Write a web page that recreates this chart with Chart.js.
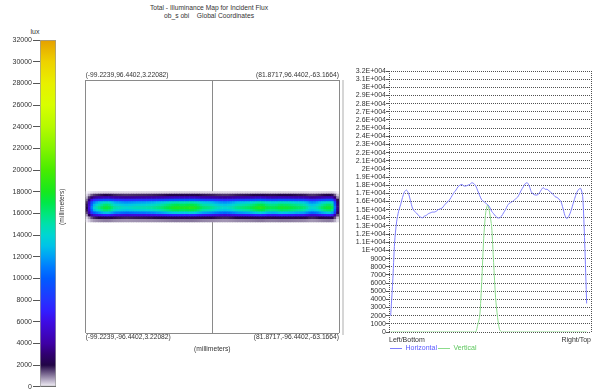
<!DOCTYPE html>
<html>
<head>
<meta charset="utf-8">
<script src="https://cdn.jsdelivr.net/npm/chart.js@4.4.1/dist/chart.umd.min.js"></script>
<style>
  html, body { margin: 0; padding: 0; background: #fff; }
  body { width: 597px; height: 392px; position: relative; overflow: hidden;
         font-family: "Liberation Sans", Arial, sans-serif; }
  .panel { position: absolute; }
  .caption { position: absolute; text-align: center; color: #333; white-space: pre; }
  #heading { left: 109px; top: 3.5px; width: 200px; font-size: 6.7px; line-height: 8px; }
  #unit { left: 20px; top: 27.5px; width: 30px; font-size: 7px; line-height: 8px; }
  #divider { position: absolute; left: 342px; top: 80px; width: 2px; height: 255px; background: #d6d6d6; }
</style>
</head>
<body>
<div id="heading" class="caption">Total - Illuminance Map for Incident Flux
ob_s obi    Global Coordinates</div>
<div id="unit" class="caption">lux</div>
<div id="divider"></div>
<div class="panel" style="left:0;top:20px"><canvas id="legendScale" width="70" height="372"></canvas></div>
<div class="panel" style="left:50px;top:60px"><canvas id="fluxMap" width="293" height="300"></canvas></div>
<div class="panel" style="left:346px;top:50px"><canvas id="profiles" width="251" height="342"></canvas></div>

<script>
// ---- receiver geometry ----
const DETECTOR_HALF_MM = 96.4402;
const BIN_COUNT = 100;
const BIN_MM = 2 * DETECTOR_HALF_MM / BIN_COUNT;
const binCentersMm = Array.from({ length: BIN_COUNT }, (_, i) => -DETECTOR_HALF_MM + (i + 0.5) * BIN_MM);

// ---- illuminance profiles through the receiver centre (lux), Left/Bottom -> Right/Top ----
const horizontalLux = [
  2000, 6000, 11000, 13500, 14800, 15600, 16500, 17200, 17400, 17000,
  16100, 15200, 14800, 14600, 14300, 14100, 14000, 14200, 14300, 14500,
  14600, 14700, 14700, 14800, 15000, 15100, 15200, 15500, 15800, 16000,
  16300, 16700, 17100, 17400, 17800, 18000, 18100, 17900, 17900, 18000,
  18100, 18300, 18200, 17900, 17300, 16700, 16200, 16000, 15800, 15600,
  15300, 14800, 14500, 14200, 14000, 14000, 14200, 14600, 15000, 15500,
  15800, 15900, 16100, 16300, 16500, 16900, 17400, 17800, 18200, 18300,
  17900, 17200, 16900, 16800, 16800, 17000, 17400, 17700, 17500, 17500,
  17300, 17100, 16900, 16600, 16500, 16300, 16000, 15200, 14300, 13900,
  14200, 14800, 15600, 16400, 17100, 17500, 17600, 16600, 11000, 3500
];
const verticalLux = [
  0, 0, 0, 0, 0, 0, 0, 0, 0, 0,
  0, 0, 0, 0, 0, 0, 0, 0, 0, 0,
  0, 0, 0, 0, 0, 0, 0, 0, 0, 0,
  0, 0, 0, 0, 0, 0, 0, 0, 0, 0,
  0, 0, 0, 0, 900, 2000, 6200, 11500, 14600, 15600,
  14600, 12900, 8500, 4200, 1800, 300, 0, 0, 0, 0,
  0, 0, 0, 0, 0, 0, 0, 0, 0, 0,
  0, 0, 0, 0, 0, 0, 0, 0, 0, 0,
  0, 0, 0, 0, 0, 0, 0, 0, 0, 0,
  0, 0, 0, 0, 0, 0, 0, 0, 0, 0
];

// ---- axis texts ----
const scaleTickLabels = ['0', '2000', '4000', '6000', '8000', '10000', '12000', '14000', '16000',
  '18000', '20000', '22000', '24000', '26000', '28000', '30000', '32000'];
const profileTickLabels = ['0', '1000', '2000', '3000', '4000', '5000', '6000', '7000', '8000', '9000',
  '1E+004', '1.1E+004', '1.2E+004', '1.3E+004', '1.4E+004', '1.5E+004', '1.6E+004', '1.7E+004',
  '1.8E+004', '1.9E+004', '2E+004', '2.1E+004', '2.2E+004', '2.3E+004', '2.4E+004', '2.5E+004',
  '2.6E+004', '2.7E+004', '2.8E+004', '2.9E+004', '3E+004', '3.1E+004', '3.2E+004'];
const profileEndLabels = ['Left/Bottom', 'Right/Top'];
const cornerLabels = ['(-99.2239,96.4402,3.22082)', '(81.8717,96.4402,-63.1664)',
  '(-99.2239,-96.4402,3.22082)', '(81.8717,-96.4402,-63.1664)'];
const LUX_MAX = 32000;

// ---- false-colour palette (lux -> rgb) ----
const colorStopLux = [0, 2000, 3000, 4000, 6000, 7000, 8000, 10000, 11000, 12000, 13000, 14000,
  15000, 16000, 17000, 18000, 20000, 22000, 24000, 26000, 28000, 30000, 32000];
const colorStopRgb = [
  [248, 246, 252], [34, 6, 70], [48, 0, 112], [62, 0, 165], [62, 12, 228], [50, 30, 255],
  [36, 52, 255], [0, 92, 255], [0, 122, 255], [0, 160, 246], [0, 195, 232], [0, 214, 210],
  [0, 224, 172], [0, 230, 122], [0, 232, 72], [22, 232, 30], [72, 236, 0], [132, 244, 0],
  [182, 250, 0], [216, 255, 0], [232, 240, 0], [238, 210, 0], [230, 160, 0]
];
const rgbText = c => `rgb(${c[0]},${c[1]},${c[2]})`;
function luxColor(v) {
  if (v <= colorStopLux[0]) return rgbText(colorStopRgb[0]);
  for (let i = 1; i < colorStopLux.length; i++) {
    if (v <= colorStopLux[i]) {
      const t = (v - colorStopLux[i - 1]) / (colorStopLux[i] - colorStopLux[i - 1]);
      const a = colorStopRgb[i - 1], b = colorStopRgb[i];
      return rgbText(a.map((ch, k) => Math.round(ch + (b[k] - ch) * t)));
    }
  }
  return rgbText(colorStopRgb[colorStopRgb.length - 1]);
}

const FONT_FAMILY = '"Liberation Sans", Arial, sans-serif';
Chart.defaults.font.family = FONT_FAMILY;
Chart.defaults.font.size = 7;
Chart.defaults.color = '#333';
Chart.defaults.animation = false;

// ---- colour scale bar ----
new Chart(document.getElementById('legendScale'), {
  type: 'bar',
  data: {
    labels: ['lux'],
    datasets: [{
      data: [[0, LUX_MAX]],
      barPercentage: 1,
      categoryPercentage: 1,
      borderWidth: 1,
      borderColor: '#9a9a9a',
      borderSkipped: false,
      backgroundColor(ctx) {
        const chart = ctx.chart;
        if (!chart.chartArea) return 'transparent';
        const y = chart.scales.y;
        const g = chart.ctx.createLinearGradient(0, y.getPixelForValue(0), 0, y.getPixelForValue(LUX_MAX));
        colorStopLux.forEach((v, i) => g.addColorStop(v / LUX_MAX, rgbText(colorStopRgb[i])));
        return g;
      }
    }]
  },
  options: {
    responsive: false,
    layout: { padding: { left: 0, right: 14, top: 20, bottom: 4 } },
    plugins: { legend: { display: false }, tooltip: { enabled: false } },
    scales: {
      x: { display: false },
      y: {
        min: 0, max: LUX_MAX, z: 1,
        afterFit(s) { s.width = 40; },
        ticks: { stepSize: 2000, autoSkip: false, padding: 1, callback: (v, i) => scaleTickLabels[i] },
        grid: { color: 'rgba(45,45,45,0.85)', tickColor: '#555', tickLength: 7, lineWidth: 1 },
        border: { display: true, color: '#888' }
      }
    }
  }
});

// ---- illuminance map: each cell is a floating bar spanning one receiver bin ----
const peakVertical = Math.max(...verticalLux);
const mapRows = [];
verticalLux.forEach((vLux, r) => {
  if (vLux <= 0) return;
  const yc = binCentersMm[r];
  mapRows.push({
    data: binCentersMm.map(x => ({ x, y: [yc - BIN_MM / 2, yc + BIN_MM / 2] })),
    backgroundColor: horizontalLux.map(hLux => luxColor(hLux * vLux / peakVertical)),
    borderWidth: 0,
    grouped: false,
    barPercentage: 1,
    categoryPercentage: 1
  });
});

const mapFrameTicks = s => { s.ticks = [-DETECTOR_HALF_MM, 0, DETECTOR_HALF_MM].map(value => ({ value })); };

const cornerLabelPlugin = {
  id: 'cornerLabels',
  afterDraw(chart) {
    const { ctx, chartArea: a } = chart;
    ctx.save();
    ctx.font = `6.7px ${FONT_FAMILY}`;
    ctx.fillStyle = '#333';
    ctx.textBaseline = 'middle';
    ctx.textAlign = 'left';
    ctx.fillText(cornerLabels[0], a.left, a.top - 4.5);
    ctx.fillText(cornerLabels[2], a.left, a.bottom + 4);
    ctx.textAlign = 'right';
    ctx.fillText(cornerLabels[1], a.right, a.top - 4.5);
    ctx.fillText(cornerLabels[3], a.right, a.bottom + 4);
    ctx.restore();
  }
};

new Chart(document.getElementById('fluxMap'), {
  type: 'bar',
  data: { datasets: mapRows },
  plugins: [cornerLabelPlugin],
  options: {
    responsive: false,
    layout: { padding: { left: 7.8, right: 4, top: 20, bottom: 7.3 } },
    plugins: { legend: { display: false }, tooltip: { enabled: false } },
    scales: {
      x: {
        type: 'linear', min: -DETECTOR_HALF_MM, max: DETECTOR_HALF_MM, offset: false, z: 1,
        afterBuildTicks: mapFrameTicks,
        ticks: { display: false },
        grid: { offset: false, drawTicks: false, color: '#8a8a8a' },
        border: { display: false },
        title: { display: true, text: '(millimeters)', font: { size: 6.7 }, color: '#333', padding: { top: 11.3, bottom: 0 } }
      },
      y: {
        type: 'linear', min: -DETECTOR_HALF_MM, max: DETECTOR_HALF_MM, z: 1,
        afterBuildTicks: mapFrameTicks,
        ticks: { display: false },
        grid: { drawTicks: false, color: '#8a8a8a' },
        border: { display: false },
        title: { display: true, text: '(millimeters)', font: { size: 6.7 }, color: '#333', padding: { top: 0, bottom: 19.8 } }
      }
    }
  }
});

// ---- centre-line profiles ----
new Chart(document.getElementById('profiles'), {
  type: 'line',
  data: {
    datasets: [
      {
        label: 'Horizontal',
        data: binCentersMm.map((x, i) => ({ x, y: horizontalLux[i] })),
        borderColor: '#7f7fff', borderWidth: 1, pointRadius: 0, tension: 0.25, fill: false
      },
      {
        label: 'Vertical',
        data: binCentersMm.map((x, i) => ({ x, y: verticalLux[i] })),
        borderColor: '#8cdc8c', borderWidth: 1, pointRadius: 0, tension: 0.25, fill: false
      }
    ]
  },
  options: {
    responsive: false,
    layout: { padding: { left: 7, right: 6, top: 21, bottom: 30 } },
    plugins: {
      tooltip: { enabled: false },
      legend: {
        position: 'bottom', align: 'start', fullSize: false,
        labels: {
          usePointStyle: true, pointStyle: 'line', pointStyleWidth: 12, padding: 1,
          font: { size: 7 },
          generateLabels(chart) {
            const textColors = ['#5a5aff', '#5ec85e'];
            return Chart.defaults.plugins.legend.labels.generateLabels(chart).map(item => {
              item.fontColor = textColors[item.datasetIndex];
              item.lineWidth = 1;
              return item;
            });
          }
        }
      }
    },
    scales: {
      x: {
        type: 'linear', min: -97.1, max: 99.7,
        afterBuildTicks(s) { s.ticks = [{ value: s.min }, { value: s.max }]; },
        afterFit(s) { s.height = 12; },
        ticks: { align: 'inner', maxRotation: 0, autoSkip: false, padding: 4,
                 callback: (v, i) => profileEndLabels[i] },
        grid: { color: 'rgba(70,70,70,0.95)', lineWidth: 1, drawTicks: false },
        border: { display: false, dash: [1, 1] }
      },
      y: {
        min: 0, max: LUX_MAX,
        afterFit(s) { s.width = 36; },
        ticks: { stepSize: 1000, autoSkip: false, padding: 0, callback: (v, i) => profileTickLabels[i] },
        grid: { color: 'rgba(70,70,70,0.95)', lineWidth: 1, tickLength: 3, tickBorderDash: [], tickColor: '#555' },
        border: { display: false, dash: [1, 1] }
      }
    }
  }
});
</script>
</body>
</html>
